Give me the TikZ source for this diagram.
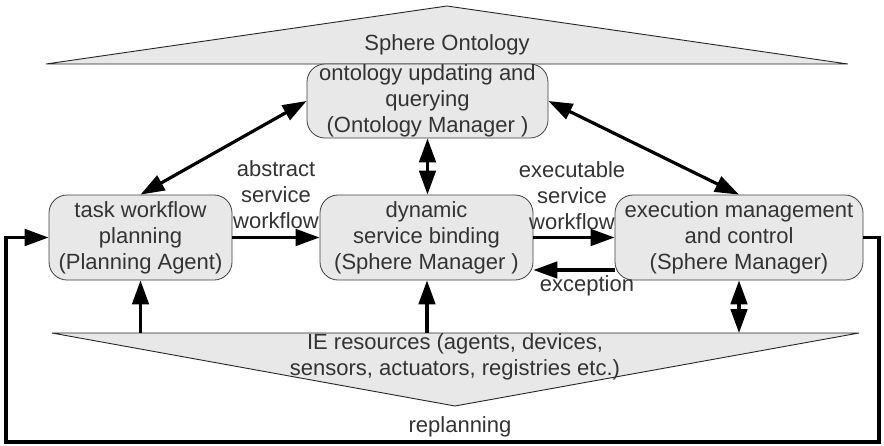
\documentclass[tikz,border=0pt]{standalone}
\usepackage{fontspec}
\setmainfont{Liberation Sans}
\usetikzlibrary{arrows.meta}
\definecolor{txt}{HTML}{333333}
\definecolor{boxfill}{HTML}{E8E8E8}
\definecolor{edgec}{HTML}{404040}
\begin{document}
\begin{tikzpicture}[x=1pt,y=-1pt,
  every node/.style={font=\fontsize{22}{26}\selectfont, text=txt},
  proc/.style={draw=edgec, line width=0.8pt, fill=boxfill, rounded corners=18pt, align=center, inner sep=0pt},
  tri/.style={draw=black!85, line width=0.9pt, fill=boxfill},
  conn/.style={line width=3.2pt, draw=black, -{Triangle[length=24pt,width=16.5pt]}},
  biconn/.style={line width=3.2pt, draw=black, {Triangle[length=24pt,width=16.5pt]}-{Triangle[length=24pt,width=16.5pt]}},
  loopline/.style={line width=3.5pt, draw=black, -{Triangle[length=24pt,width=16.5pt]}},
  lbl/.style={align=center, inner sep=0pt}]
\useasboundingbox (0,0) rectangle (884,445);

% triangles
\draw[tri] (46,64) -- (447,6) -- (848,64) -- cycle;
\node[lbl] (onto) at (447,45) {Sphere Ontology};
\draw[tri] (52,333) -- (859,333) -- (455,406) -- cycle;
\node[lbl] (ie) at (455,357) {IE resources (agents, devices,\\sensors, actuators, registries etc.)};
\coordinate (iea) at (140.5,333);
\coordinate (ieb) at (427,333);
\coordinate (iec) at (739,333);

% boxes
\node[proc, minimum width=241pt, minimum height=74pt] (ont) at (427.5,101) {ontology updating and\\querying\\(Ontology Manager )};
\node[proc, minimum width=183pt, minimum height=85pt] (left) at (140.5,237.5) {task workflow\\planning\\(Planning Agent)};
\node[proc, minimum width=213pt, minimum height=85pt] (mid) at (426.5,237.5) {dynamic\\service binding\\(Sphere Manager )};
\node[proc, minimum width=248pt, minimum height=85pt] (right) at (739,237.5) {execution management\\and control\\(Sphere Manager)};

% labels
\node[lbl] (abs) at (276,195) {abstract\\service\\workflow};
\node[lbl] (exe) at (572,196) {executable\\service\\workflow};
\node[lbl] (exc) at (587,286) {exception};
\node[lbl] (rep) at (460,427) {replanning};

% connectors
\draw[biconn] (left.north) -- (ont.west);
\draw[biconn] (ont.east) -- (right.north);
\draw[biconn] (ont.south) -- (ont.south |- mid.north);
\draw[conn] (left.east) -- (mid.west);
\draw[conn] (mid.east) -- (right.west);
\draw[conn] ([yshift=-32.5pt]right.west) -- ([yshift=-32.5pt]mid.east);
\draw[conn] (iea) -- (left.south);
\draw[conn] (ieb) -- (ieb |- mid.south);
\draw[biconn] (right.south) -- (iec);

\coordinate (c1) at (879,237.5);
\coordinate (c2) at (879,442);
\coordinate (c3) at (6,442);
\coordinate (c4) at (6,237.5);
\draw[loopline] (right.east) -- (c1) -- (c2) -- (c3) -- (c4) -- (left.west);
\end{tikzpicture}
\end{document}
